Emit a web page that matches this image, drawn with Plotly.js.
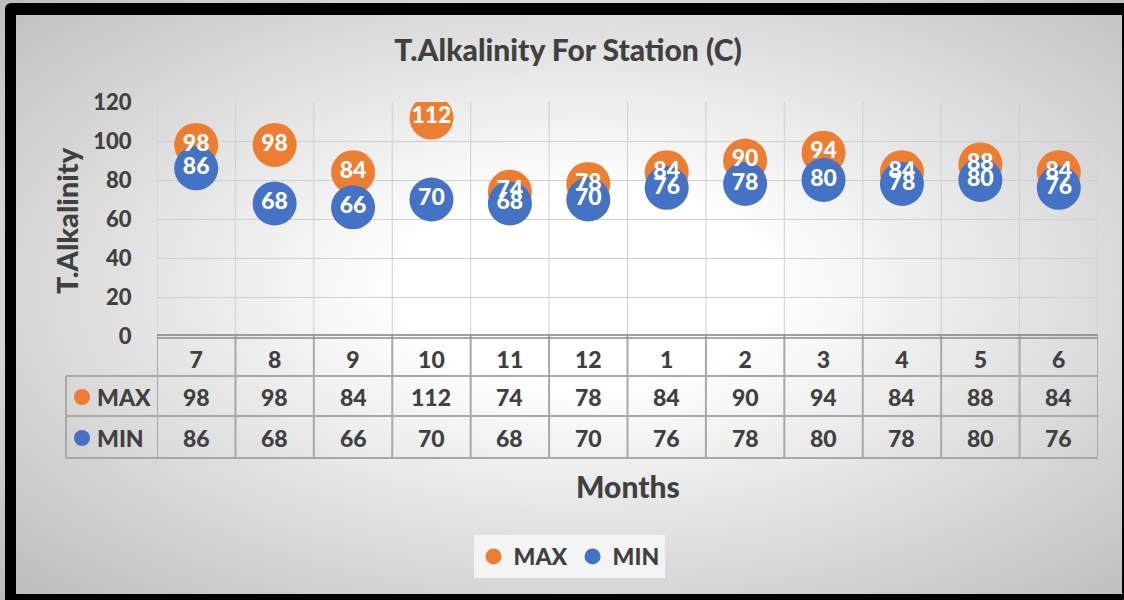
<!DOCTYPE html>
<html>
<head>
<meta charset="utf-8">
<script src="https://cdn.plot.ly/plotly-3.0.1.min.js"></script>
<style>
  html, body { margin:0; padding:0; background:#ffffff; }
  #wrap { position:relative; width:1124px; height:600px; overflow:hidden; }
  #chart { position:absolute; left:0; top:0; width:1124px; height:600px;
    background: radial-gradient(ellipse farthest-corner at 52% 48%, #ffffff 0%, #ffffff 22%, #bbbbbb 100%); }
  #frame { position:absolute; left:5px; top:3px; width:1119px; height:597px; box-sizing:border-box;
    border-style:solid; border-color:#000; border-width:12px 2px 6px 11px; border-radius:6px 0 0 0; pointer-events:none; }
</style>
</head>
<body>
<div id="wrap"><div id="chart"></div><div id="frame"></div></div>
<script>
const months = ['7','8','9','10','11','12','1','2','3','4','5','6'];
const maxVals = [98, 98, 84, 112, 74, 78, 84, 90, 94, 84, 88, 84];
const minVals = [86, 68, 66, 70, 68, 70, 76, 78, 80, 78, 80, 76];
const seriesNames = ['MAX', 'MIN'];
const seriesColors = ['#ED7D31', '#4472C4'];
const yTicks = [0, 20, 40, 60, 80, 100, 120];

const FONT = 'Lato, "Open Sans", sans-serif';
const TXT = '#404040';
const W = 900;

// plot area in px: left 157, right 1098, top 102, bottom 336
const plotTop = 102, plotBottom = 336, plotH = plotBottom - plotTop;
const py = (px) => (plotBottom - px) / plotH;        // pixel y -> paper y
const plotLeft = 157, plotW = 1098 - 157;
const pxX = (px) => (px - plotLeft) / plotW;

const idx = months.map((m, i) => i);

const traces = [
  { type:'scatter', mode:'markers', x: idx, y: maxVals, name: seriesNames[0],
    marker:{ color: seriesColors[0], size:44 }, hoverinfo:'skip', showlegend:true },
  { type:'scatter', mode:'markers', x: idx, y: minVals, name: seriesNames[1],
    marker:{ color: seriesColors[1], size:44 }, hoverinfo:'skip', showlegend:true },
  { type:'scatter', mode:'text', x: idx, y: maxVals, text: maxVals.map(String),
    textposition:'middle center', textfont:{ family: FONT, size:23, color:'#ffffff', weight:W },
    hoverinfo:'skip', showlegend:false },
  { type:'scatter', mode:'text', x: idx, y: minVals, text: minVals.map(String),
    textposition:'middle center', textfont:{ family: FONT, size:23, color:'#ffffff', weight:W },
    hoverinfo:'skip', showlegend:false }
];

const shapes = [];
const gridC = '#cfcfcf', tableC = '#a8a8a8';
const yMaxRowTop = py(376), yMinRowTop = py(416), yTableBottom = py(458);
const yMonthTop = py(338);
for (let i = 0; i <= months.length; i++) {
  const xv = i - 0.5;
  shapes.push({ type:'line', xref:'x', yref:'paper', x0:xv, x1:xv, y0:0, y1:1, line:{ color:gridC, width:1 }, layer:'below' });
  shapes.push({ type:'line', xref:'x', yref:'paper', x0:xv, x1:xv, y0:yTableBottom, y1:0, line:{ color:tableC, width:2 } });
}
shapes.push({ type:'line', xref:'paper', yref:'paper', x0:0, x1:1, y0:yMonthTop, y1:yMonthTop, line:{ color:'#8c8c8c', width:1.5 } });
shapes.push({ type:'line', xref:'paper', yref:'paper', x0:pxX(66), x1:1, y0:yMaxRowTop, y1:yMaxRowTop, line:{ color:tableC, width:2 } });
shapes.push({ type:'line', xref:'paper', yref:'paper', x0:pxX(66), x1:1, y0:yMinRowTop, y1:yMinRowTop, line:{ color:tableC, width:2 } });
shapes.push({ type:'line', xref:'paper', yref:'paper', x0:pxX(66), x1:1, y0:yTableBottom, y1:yTableBottom, line:{ color:tableC, width:2 } });
shapes.push({ type:'line', xref:'paper', yref:'paper', x0:pxX(66), x1:pxX(66), y0:yTableBottom, y1:yMaxRowTop, line:{ color:tableC, width:2 } });
shapes.push({ type:'line', xref:'paper', yref:'paper', x0:0, x1:1, y0:py(335), y1:py(335), line:{ color:'#7f7f7f', width:1.5 } });

const annotations = [];
const rows = [maxVals, minVals];
rows.forEach((vals, r) => {
  const rowY = r === 0 ? 397 : 438;
  const yc = py(rowY);
  vals.forEach((v, i) => {
    annotations.push({ xref:'x', yref:'paper', x:i, y:yc, text:String(v), showarrow:false,
      font:{ family:FONT, size:23, color:TXT, weight:W }, xanchor:'center', yanchor:'middle' });
  });
  // legend key circle for the table row
  shapes.push({ type:'circle', xref:'paper', yref:'paper',
    x0:pxX(74), x1:pxX(90), y0:py(rowY + 8), y1:py(rowY - 8),
    fillcolor:seriesColors[r], line:{ width:0 } });
  annotations.push({ xref:'paper', yref:'paper', x:pxX(95), y:yc, xanchor:'left', yanchor:'middle', showarrow:false,
    text:seriesNames[r], font:{ family:FONT, size:23, color:TXT, weight:W } });
});
annotations.push({ xref:'paper', yref:'paper', x:pxX(66), y:py(221), textangle:-90, showarrow:false,
  text:'T.Alkalinity', font:{ family:FONT, size:29, color:TXT, weight:W }, xanchor:'center', yanchor:'middle' });
annotations.push({ xref:'paper', yref:'paper', x:pxX(628), y:py(486), showarrow:false,
  text:'Months', font:{ family:FONT, size:30, color:TXT, weight:W }, xanchor:'center', yanchor:'middle' });

const layout = {
  width:1124, height:600,
  paper_bgcolor:'rgba(0,0,0,0)', plot_bgcolor:'rgba(0,0,0,0)',
  margin:{ l:157, r:26, t:102, b:264 },
  title:{ text:'T.Alkalinity For Station (C)', x:568/1124, xanchor:'center', y:1 - 50/600, yanchor:'middle',
    font:{ family:FONT, size:30, color:TXT, weight:W } },
  xaxis:{ type:'linear', range:[-0.5, months.length - 0.5], tickvals: idx, ticktext: months,
    showgrid:false, zeroline:false, showline:false, ticks:'outside', ticklen:3, tickcolor:'rgba(0,0,0,0)',
    tickfont:{ family:FONT, size:23, color:TXT, weight:W }, fixedrange:true },
  yaxis:{ range:[0, 120], tickvals: yTicks, showgrid:true, gridcolor:gridC, gridwidth:1, zeroline:false,
    showline:false, ticks:'outside', ticklen:20, tickcolor:'rgba(0,0,0,0)',
    tickfont:{ family:FONT, size:22, color:TXT, weight:W }, fixedrange:true },
  showlegend:true,
  legend:{ orientation:'h', x:pxX(569), xanchor:'center', y:py(535), yanchor:'top',
    bgcolor:'#f4f4f4', font:{ family:FONT, size:23, color:TXT, weight:W },
    borderwidth:0, tracegroupgap:0 },
  shapes: shapes, annotations: annotations
};

Plotly.newPlot('chart', traces, layout, { displayModeBar:false, staticPlot:true });
</script>
</body>
</html>
